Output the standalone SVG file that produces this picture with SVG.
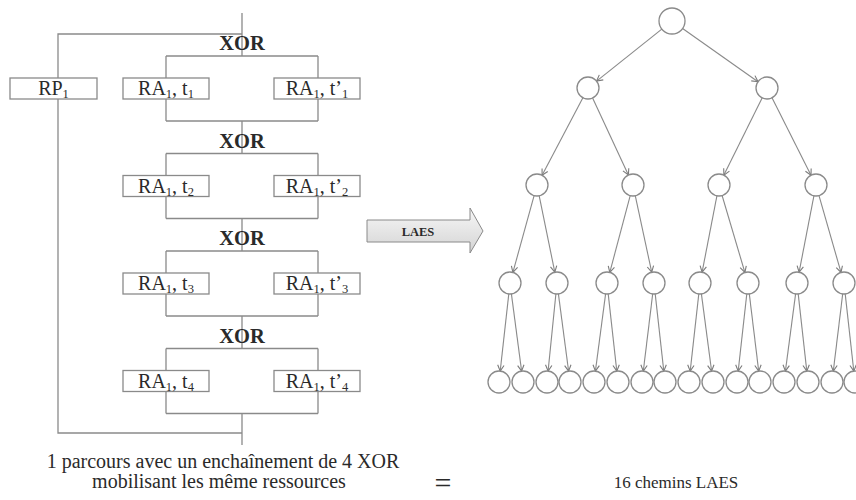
<svg xmlns="http://www.w3.org/2000/svg" width="856" height="500" viewBox="0 0 856 500">
<style>
.ln{fill:none;stroke:#8a8a8a;stroke-width:1.3}
.box{fill:#fff;stroke:#8a8a8a;stroke-width:1.3}
text{font-family:'Liberation Serif','DejaVu Serif','Times New Roman',serif;fill:#2a2a2a;text-anchor:middle}
.lbl{font-size:20px}
.xor{font-size:20.5px;font-weight:bold}
.sub{font-size:12.5px}
.nd{fill:#fff;stroke:#8a8a8a;stroke-width:1.3}
.ed{fill:none;stroke:#8a8a8a;stroke-width:1.1;marker-end:url(#ah)}
</style>
<defs>
<marker id="ah" markerUnits="userSpaceOnUse" markerWidth="8" markerHeight="8" viewBox="0 0 8 8" refX="7" refY="4" orient="auto" overflow="visible">
<path d="M1,0.8 L7,4 L1,7.2" fill="none" stroke="#7a7a7a" stroke-width="1.1"/>
</marker>
<linearGradient id="gr" x1="0" y1="0" x2="0" y2="1">
<stop offset="0" stop-color="#f7f7f7"/>
<stop offset="1" stop-color="#d4d4d4"/>
</linearGradient>
</defs>

<g id="connectors-left">
<path class="ln" d="M242,13 V56 M242,34 H58 V78 M58,99 V433 H242 M242,413.5 V445"/>
<path class="ln" d="M166,56 H318 M166,56 V78 M318,56 V78 M166,99 V121 M318,99 V121 M166,121 H318 M242,121 V153.5"/>
<path class="ln" d="M166,153.5 H318 M166,153.5 V175.5 M318,153.5 V175.5 M166,196.5 V218.5 M318,196.5 V218.5 M166,218.5 H318 M242,218.5 V251"/>
<path class="ln" d="M166,251 H318 M166,251 V273 M318,251 V273 M166,294 V316 M318,294 V316 M166,316 H318 M242,316 V348.5"/>
<path class="ln" d="M166,348.5 H318 M166,348.5 V370.5 M318,348.5 V370.5 M166,391.5 V413.5 M318,391.5 V413.5 M166,413.5 H318"/>
</g>

<g id="xor-labels" font-family="Liberation Serif, serif">
<text class="xor" x="242" y="50">XOR</text>
<text class="xor" x="242" y="147.5">XOR</text>
<text class="xor" x="242" y="245">XOR</text>
<text class="xor" x="242" y="342.5">XOR</text>
</g>

<g id="rp1" font-family="Liberation Serif, serif">
<rect class="box" x="10" y="78" width="87" height="21"/>
<text class="lbl" x="53.5" y="95">RP<tspan class="sub" dy="3">1</tspan></text>
</g>
<g id="ra1-t1" font-family="Liberation Serif, serif">
<rect class="box" x="123" y="78" width="86" height="21"/>
<text class="lbl" x="166" y="95">RA<tspan class="sub" dy="3">1</tspan><tspan dy="-3">, t</tspan><tspan class="sub" dy="3">1</tspan></text>
</g>
<g id="ra1-tp1" font-family="Liberation Serif, serif">
<rect class="box" x="274" y="78" width="86" height="21"/>
<text class="lbl" x="317" y="95">RA<tspan class="sub" dy="3">1</tspan><tspan dy="-3">, t’</tspan><tspan class="sub" dy="3">1</tspan></text>
</g>
<g id="ra1-t2" font-family="Liberation Serif, serif">
<rect class="box" x="123" y="175.5" width="86" height="21"/>
<text class="lbl" x="166" y="192.5">RA<tspan class="sub" dy="3">1</tspan><tspan dy="-3">, t</tspan><tspan class="sub" dy="3">2</tspan></text>
</g>
<g id="ra1-tp2" font-family="Liberation Serif, serif">
<rect class="box" x="274" y="175.5" width="86" height="21"/>
<text class="lbl" x="317" y="192.5">RA<tspan class="sub" dy="3">1</tspan><tspan dy="-3">, t’</tspan><tspan class="sub" dy="3">2</tspan></text>
</g>
<g id="ra1-t3" font-family="Liberation Serif, serif">
<rect class="box" x="123" y="273" width="86" height="21"/>
<text class="lbl" x="166" y="290">RA<tspan class="sub" dy="3">1</tspan><tspan dy="-3">, t</tspan><tspan class="sub" dy="3">3</tspan></text>
</g>
<g id="ra1-tp3" font-family="Liberation Serif, serif">
<rect class="box" x="274" y="273" width="86" height="21"/>
<text class="lbl" x="317" y="290">RA<tspan class="sub" dy="3">1</tspan><tspan dy="-3">, t’</tspan><tspan class="sub" dy="3">3</tspan></text>
</g>
<g id="ra1-t4" font-family="Liberation Serif, serif">
<rect class="box" x="123" y="370.5" width="86" height="21"/>
<text class="lbl" x="166" y="387.5">RA<tspan class="sub" dy="3">1</tspan><tspan dy="-3">, t</tspan><tspan class="sub" dy="3">4</tspan></text>
</g>
<g id="ra1-tp4" font-family="Liberation Serif, serif">
<rect class="box" x="274" y="370.5" width="86" height="21"/>
<text class="lbl" x="317" y="387.5">RA<tspan class="sub" dy="3">1</tspan><tspan dy="-3">, t’</tspan><tspan class="sub" dy="3">4</tspan></text>
</g>

<g id="laes-arrow" font-family="Liberation Serif, serif">
<polygon points="367,220 470,220 470,208 483,231 470,253 470,242 367,242" fill="url(#gr)" stroke="#8a8a8a" stroke-width="1"/>
<text x="418" y="235.5" font-size="12.5" font-weight="bold">LAES</text>
</g>

<g id="connectors-tree">
<line class="ed" x1="661.8" y1="29.1" x2="596.6" y2="81.1"/>
<line class="ed" x1="682.6" y1="28.5" x2="758" y2="81.7"/>
<line class="ed" x1="582.9" y1="97.7" x2="542.1" y2="175.3"/>
<line class="ed" x1="592.6" y1="98" x2="628.4" y2="175"/>
<line class="ed" x1="762.1" y1="97.9" x2="723.9" y2="175.1"/>
<line class="ed" x1="772" y1="97.8" x2="811" y2="175.2"/>
<line class="ed" x1="534.1" y1="195.6" x2="512.9" y2="272.4"/>
<line class="ed" x1="539.2" y1="195.8" x2="554.8" y2="272.2"/>
<line class="ed" x1="630.2" y1="195.6" x2="609.8" y2="272.4"/>
<line class="ed" x1="635.3" y1="195.8" x2="651.7" y2="272.2"/>
<line class="ed" x1="716.9" y1="195.8" x2="702.1" y2="272.2"/>
<line class="ed" x1="722.1" y1="195.5" x2="744.9" y2="272.5"/>
<line class="ed" x1="813.9" y1="195.8" x2="799.1" y2="272.2"/>
<line class="ed" x1="819" y1="195.6" x2="841" y2="272.4"/>
<line class="ed" x1="508.8" y1="293.9" x2="500.2" y2="371.1"/>
<line class="ed" x1="511.4" y1="293.9" x2="521.6" y2="371.1"/>
<line class="ed" x1="555.9" y1="293.9" x2="548.1" y2="371.1"/>
<line class="ed" x1="558.4" y1="293.9" x2="568.6" y2="371.1"/>
<line class="ed" x1="605.6" y1="293.9" x2="595.4" y2="371.1"/>
<line class="ed" x1="608.2" y1="293.9" x2="616.8" y2="371.1"/>
<line class="ed" x1="652.7" y1="293.9" x2="643.3" y2="371.1"/>
<line class="ed" x1="655.2" y1="293.9" x2="663.8" y2="371.1"/>
<line class="ed" x1="698.8" y1="293.9" x2="690.2" y2="371.1"/>
<line class="ed" x1="701.4" y1="293.9" x2="711.6" y2="371.1"/>
<line class="ed" x1="746.8" y1="293.9" x2="738.2" y2="371.1"/>
<line class="ed" x1="749.3" y1="293.9" x2="758.7" y2="371.1"/>
<line class="ed" x1="795.6" y1="293.9" x2="785.4" y2="371.1"/>
<line class="ed" x1="798.2" y1="293.9" x2="806.8" y2="371.1"/>
<line class="ed" x1="842.7" y1="293.9" x2="833.3" y2="371.1"/>
<line class="ed" x1="845.2" y1="293.9" x2="853.8" y2="371.1"/>
</g>

<g id="tree-nodes">
<g id="n0"><circle class="nd" cx="672" cy="21" r="13"/></g>
<g id="n1"><circle class="nd" cx="588" cy="88" r="11"/></g>
<g id="n2"><circle class="nd" cx="767" cy="88" r="11"/></g>
<g id="n3"><circle class="nd" cx="537" cy="185" r="11"/></g>
<g id="n4"><circle class="nd" cx="633" cy="185" r="11"/></g>
<g id="n5"><circle class="nd" cx="719" cy="185" r="11"/></g>
<g id="n6"><circle class="nd" cx="816" cy="185" r="11"/></g>
<g id="n7"><circle class="nd" cx="510" cy="283" r="11"/></g>
<g id="n8"><circle class="nd" cx="557" cy="283" r="11"/></g>
<g id="n9"><circle class="nd" cx="607" cy="283" r="11"/></g>
<g id="n10"><circle class="nd" cx="654" cy="283" r="11"/></g>
<g id="n11"><circle class="nd" cx="700" cy="283" r="11"/></g>
<g id="n12"><circle class="nd" cx="748" cy="283" r="11"/></g>
<g id="n13"><circle class="nd" cx="797" cy="283" r="11"/></g>
<g id="n14"><circle class="nd" cx="844" cy="283" r="11"/></g>
<g id="l1"><circle class="nd" cx="499" cy="382" r="11"/></g>
<g id="l2"><circle class="nd" cx="523" cy="382" r="11"/></g>
<g id="l3"><circle class="nd" cx="547" cy="382" r="11"/></g>
<g id="l4"><circle class="nd" cx="570" cy="382" r="11"/></g>
<g id="l5"><circle class="nd" cx="594" cy="382" r="11"/></g>
<g id="l6"><circle class="nd" cx="618" cy="382" r="11"/></g>
<g id="l7"><circle class="nd" cx="642" cy="382" r="11"/></g>
<g id="l8"><circle class="nd" cx="665" cy="382" r="11"/></g>
<g id="l9"><circle class="nd" cx="689" cy="382" r="11"/></g>
<g id="l10"><circle class="nd" cx="713" cy="382" r="11"/></g>
<g id="l11"><circle class="nd" cx="737" cy="382" r="11"/></g>
<g id="l12"><circle class="nd" cx="760" cy="382" r="11"/></g>
<g id="l13"><circle class="nd" cx="784" cy="382" r="11"/></g>
<g id="l14"><circle class="nd" cx="808" cy="382" r="11"/></g>
<g id="l15"><circle class="nd" cx="832" cy="382" r="11"/></g>
<g id="l16"><circle class="nd" cx="855" cy="382" r="11"/></g>
</g>

<g id="captions" font-family="Liberation Serif, serif">
<text x="223" y="468" font-size="20">1 parcours avec un enchaînement de 4 XOR</text>
<text x="219" y="488" font-size="20">mobilisant les même ressources</text>
<text x="443" y="493" font-size="30">=</text>
<text x="676" y="488" font-size="17">16 chemins LAES</text>
</g>
</svg>
